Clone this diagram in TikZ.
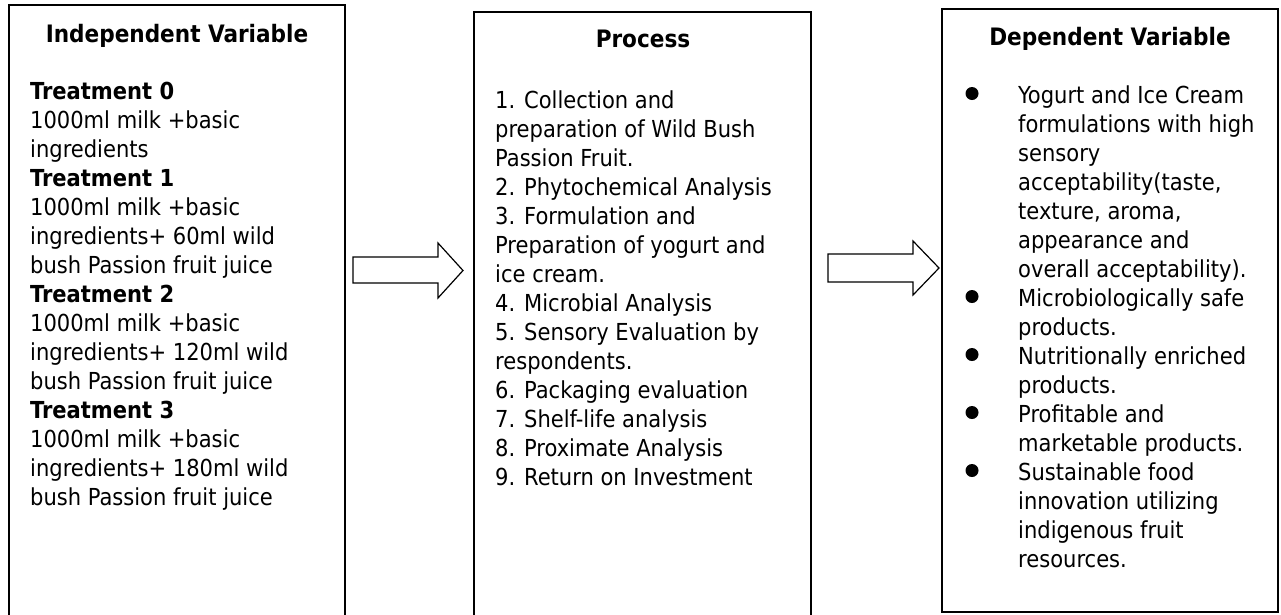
\documentclass[tikz,border=0pt]{standalone}
\usepackage{fontspec}
\setmainfont{DejaVu Sans Condensed}
\begin{document}
\begin{tikzpicture}[x=1pt,y=-1pt,
  frame/.style={draw=black, line width=1.6pt, inner sep=0pt, outer sep=0pt, anchor=north west},
  blockarrow/.style={draw=black, fill=white, line width=1.2pt, line join=miter},
  txt/.style={anchor=base west, inner sep=0pt, font=\fontsize{23.4}{29}\selectfont},
  head/.style={anchor=base, inner sep=0pt, font=\fontsize{24}{29}\selectfont\bfseries},
  dot/.style={circle, fill=black, inner sep=0pt, minimum size=13pt}]
\useasboundingbox (0,0) rectangle (1281,614);
\clip (0,0) rectangle (1281,614);
\fill[white] (0,0) rectangle (1281,614);
% boxes
\node[frame, minimum width=336pt, minimum height=620pt] (indep) at (9,5) {};
\node[frame, minimum width=337pt, minimum height=615pt] (proc) at (474,12) {};
\node[frame, minimum width=336pt, minimum height=603pt] (dep) at (942,9) {};
% headings
\node[head] (h1) at (177,42) {Independent Variable};
\node[head] (h2) at (643,47) {Process};
\node[head] (h3) at (1110,45) {Dependent Variable};
% left text
\node[txt] (t1) at (30,99) {\parbox[t]{310pt}{%
\textbf{Treatment 0}\\
1000ml milk +basic\\
ingredients\\
\textbf{Treatment 1}\\
1000ml milk +basic\\
ingredients+ 60ml wild\\
bush Passion fruit juice\\
\textbf{Treatment 2}\\
1000ml milk +basic\\
ingredients+ 120ml wild\\
bush Passion fruit juice\\
\textbf{Treatment 3}\\
1000ml milk +basic\\
ingredients+ 180ml wild\\
bush Passion fruit juice}};
% middle text
\node[txt] (t2) at (495,108) {\parbox[t]{310pt}{%
1. Collection and\\
preparation of Wild Bush\\
Passion Fruit.\\
2. Phytochemical Analysis\\
3. Formulation and\\
Preparation of yogurt and\\
ice cream.\\
4. Microbial Analysis\\
5. Sensory Evaluation by\\
respondents.\\
6. Packaging evaluation\\
7. Shelf-life analysis\\
8. Proximate Analysis\\
9. Return on Investment}};
% right text
\node[txt] (t3) at (1018,103) {\parbox[t]{258pt}{%
Yogurt and Ice Cream\\
formulations with high\\
sensory\\
acceptability(taste,\\
texture, aroma,\\
appearance and\\
overall acceptability).\\
Microbiologically safe\\
products.\\
Nutritionally enriched\\
products.\\
Profitable and\\
marketable products.\\
Sustainable food\\
innovation utilizing\\
indigenous fruit\\
resources.}};
% bullets
\node[dot] (b1) at (972,93.5) {};
\node[dot] (b2) at (972,296.5) {};
\node[dot] (b3) at (972,354.5) {};
\node[dot] (b4) at (972,412.5) {};
\node[dot] (b5) at (972,470.5) {};
% block arrows
\draw[blockarrow] (353,257) -- (438,257) -- (438,243) -- (463,270.5) -- (438,298) -- (438,283) -- (353,283) -- cycle;
\draw[blockarrow] (828,254) -- (913,254) -- (913,241) -- (939,268) -- (913,295) -- (913,282) -- (828,282) -- cycle;
\end{tikzpicture}
\end{document}
